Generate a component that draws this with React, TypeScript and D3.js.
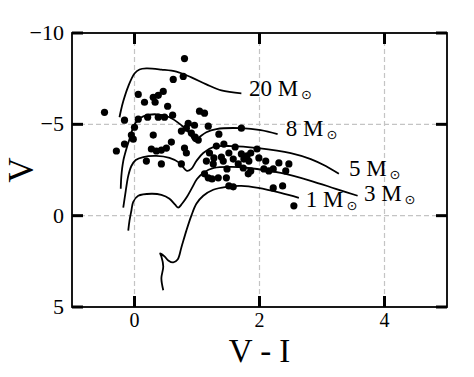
import React from "react";
import * as d3 from "d3";

// ---------- data (V-I colour, V magnitude) ----------
const starVI = [0.80, 0.62, 0.78, 0.06, 0.16, 0.30, 0.38, 0.46, 0.33, 0.53, -0.48, -0.16, 0.06, 0.21, 0.38, 0.48, 0.61, 1.04, 1.12, 0.86, 0.96, 0.00, -0.05, -0.16, -0.29, 0.30, 0.83, 0.91, 0.97, 1.02, 1.18, 1.35, 1.71, 0.75, 0.59, 0.80, 0.83, 0.27, 0.35, 0.43, 0.51, 0.19, 0.43, 0.75, 1.43, 1.61, 1.96, 1.20, 1.27, 1.39, 1.42, 1.26, 1.71, 1.80, 1.86, 1.75, 1.83, 1.66, 1.74, 1.86, 1.82, 2.07, 2.15, 2.22, 2.31, 2.47, 2.42, 1.12, 1.18, 1.24, 1.34, 1.47, 1.51, 1.58, 2.22, 2.37, 2.55, -0.02, 1.31, 1.51, 1.58, 1.15, 1.48, 1.99, 2.10];
const starV = [-8.60, -7.46, -7.62, -6.64, -6.21, -6.48, -6.59, -6.80, -6.21, -5.99, -5.66, -5.23, -5.28, -5.39, -5.39, -5.39, -5.50, -5.72, -5.61, -5.06, -4.95, -4.84, -4.41, -3.92, -3.54, -4.41, -4.79, -4.52, -4.30, -4.14, -4.90, -4.46, -4.79, -4.63, -4.03, -3.70, -3.43, -3.65, -3.54, -3.59, -3.70, -2.99, -2.83, -2.83, -3.92, -3.76, -3.65, -3.43, -3.16, -3.21, -2.99, -2.83, -3.38, -3.27, -3.43, -3.10, -2.99, -2.83, -2.61, -2.45, -2.29, -2.56, -2.45, -2.56, -2.89, -2.83, -2.45, -2.29, -2.07, -2.01, -2.07, -2.07, -1.63, -1.58, -1.52, -1.63, -0.54, -4.19, -3.81, -3.43, -3.10, -2.99, -2.56, -3.16, -2.99];

const track20VI = [-0.24, -0.22, -0.18, -0.10, 0.00, 0.08, 0.19, 0.43, 0.67, 0.91, 1.15, 1.39, 1.71];
const track20V = [-5.39, -5.72, -6.26, -7.08, -7.78, -8.00, -8.06, -8.00, -7.89, -7.57, -7.19, -6.86, -6.70];

const track8VI = [-0.22, -0.21, -0.18, -0.13, -0.08, -0.02, 0.05, 0.14, 0.35, 0.56, 0.75, 0.88, 0.96, 1.04, 1.15, 1.31, 1.71, 2.02, 2.29];
const track8V = [-1.47, -2.18, -2.99, -3.65, -4.19, -4.84, -5.23, -5.44, -5.55, -5.39, -4.95, -4.52, -4.08, -4.30, -4.57, -4.74, -4.79, -4.68, -4.46];

const track5VI = [-0.18, -0.14, -0.10, -0.05, 0.02, 0.14, 0.35, 0.56, 0.72, 0.84, 0.91, 0.99, 1.10, 1.27, 1.55, 1.98, 2.50, 2.82, 3.06, 3.27];
const track5V = [-0.44, -1.36, -2.18, -2.72, -3.05, -3.21, -3.27, -3.16, -2.89, -2.45, -2.56, -2.99, -3.43, -3.76, -3.81, -3.70, -3.43, -3.10, -2.72, -2.29];

const track3VI = [-0.10, -0.08, -0.05, -0.02, 0.06, 0.27, 0.43, 0.56, 0.65, 0.70, 0.76, 0.84, 0.92, 1.00, 1.10, 1.27, 1.55, 1.82, 2.34, 2.82, 3.22, 3.57];
const track3V = [0.82, 0.27, -0.27, -0.76, -1.09, -1.20, -1.14, -0.93, -0.60, -0.44, -0.65, -1.03, -1.52, -2.01, -2.34, -2.61, -2.67, -2.61, -2.34, -1.91, -1.47, -1.09];

const track1VI = [0.46, 0.43, 0.46, 0.43, 0.41, 0.48, 0.54, 0.62, 0.69, 0.75, 0.83, 0.91, 0.99, 1.10, 1.26, 1.47, 1.71, 1.98, 2.34, 2.63];
const track1V = [4.08, 3.43, 2.78, 2.23, 2.07, 2.23, 2.45, 2.56, 2.40, 1.74, 0.82, 0.00, -0.65, -1.09, -1.42, -1.58, -1.63, -1.52, -1.25, -0.98];

const labelText = ["20 M", "8 M", "5 M", "3 M", "1 M"];
const labelVI = [1.83, 2.42, 3.43, 3.67, 2.74];
const labelV = [-6.53, -4.35, -2.18, -0.82, -0.49];

const xTicks = [0, 2, 4];
const yTicks = [-10, -5, 0, 5];
const xGrid = [0, 2, 4];
const yGrid = [-5, 0];
const xDomain = [-1, 5];
const yDomain = [-10, 5];

// ---------- layout ----------
const W = 474, H = 377;
const L = 72, R = 447, T = 33, B = 307;

export default function App() {
  const x = d3.scaleLinear().domain(xDomain).range([L, R]);
  const y = d3.scaleLinear().domain(yDomain).range([T, B]);
  const line = d3
    .line<[number, number]>()
    .x((d) => x(d[0]))
    .y((d) => y(d[1]))
    .curve(d3.curveCatmullRom.alpha(0.5));

  const tracks = [
    [track20VI, track20V],
    [track8VI, track8V],
    [track5VI, track5V],
    [track3VI, track3V],
    [track1VI, track1V],
  ].map(([a, b]) => a.map((v, i) => [v, b[i]] as [number, number]));

  const serif = "'Liberation Serif', 'Times New Roman', serif";
  const tick = 11;

  return (
    <svg
      width={W}
      height={H}
      style={{ position: "absolute", left: 0, top: 0, background: "#fff" }}
    >
      <rect x={0} y={0} width={W} height={H} fill="#fff" />
      {/* grid */}
      {xGrid.map((v) => (
        <line key={"gx" + v} x1={x(v)} x2={x(v)} y1={T} y2={B} stroke="#c4c4c4" strokeWidth={1.2} strokeDasharray="5,3" />
      ))}
      {yGrid.map((v) => (
        <line key={"gy" + v} x1={L} x2={R} y1={y(v)} y2={y(v)} stroke="#c4c4c4" strokeWidth={1.2} strokeDasharray="5,3" />
      ))}

      {/* tracks */}
      {tracks.map((t, i) => (
        <path key={"t" + i} d={line(t) || ""} fill="none" stroke="#000" strokeWidth={1.8} />
      ))}

      {/* stars */}
      {starVI.map((v, i) => (
        <circle key={"s" + i} cx={x(v)} cy={y(starV[i])} r={3.6} fill="#000" />
      ))}

      {/* track labels */}
      {labelText.map((t, i) => (
        <text key={"l" + i} x={x(labelVI[i])} y={y(labelV[i])} fontFamily={serif} fontSize={23} fill="#000">
          {t}
          <tspan fontFamily="'DejaVu Sans'" fontSize={13} dx={3} dy={3}>
            ⊙
          </tspan>
        </text>
      ))}

      {/* frame */}
      <rect x={L} y={T} width={R - L} height={B - T} fill="none" stroke="#000" strokeWidth={1.8} />

      {/* ticks */}
      {yTicks.map((v) => (
        <g key={"yt" + v}>
          <line x1={L} x2={L + tick} y1={y(v)} y2={y(v)} stroke="#000" strokeWidth={3} />
          <line x1={R - tick} x2={R} y1={y(v)} y2={y(v)} stroke="#000" strokeWidth={3} />
          <text x={L - 8} y={y(v) + 7} textAnchor="end" fontFamily={serif} fontSize={22} fill="#000">
            {v < 0 ? "\u2212" + Math.abs(v) : String(v)}
          </text>
        </g>
      ))}
      {xTicks.map((v) => (
        <g key={"xt" + v}>
          <line x1={x(v)} x2={x(v)} y1={B} y2={B - tick} stroke="#000" strokeWidth={3} />
          <line x1={x(v)} x2={x(v)} y1={T} y2={T + tick} stroke="#000" strokeWidth={3} />
          <text x={x(v)} y={B + 20} textAnchor="middle" fontFamily={serif} fontSize={20} fill="#000">
            {String(v)}
          </text>
        </g>
      ))}

      {/* axis titles */}
      <text x={(L + R) / 2} y={362} textAnchor="middle" fontFamily={serif} fontSize={33} fill="#000">
        V - I
      </text>
      <text
        transform={`translate(33,${(T + B) / 2}) rotate(-90)`}
        textAnchor="middle"
        fontFamily={serif}
        fontSize={35}
        fill="#000"
      >
        V
      </text>
    </svg>
  );
}
